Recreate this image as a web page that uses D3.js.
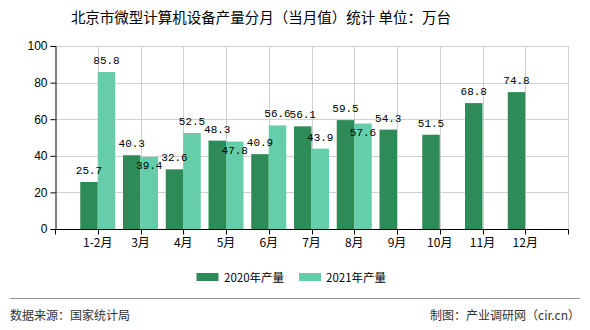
<!DOCTYPE html>
<html><head><meta charset="utf-8">
<script src="https://cdn.jsdelivr.net/npm/d3@7"></script>
<style>body{margin:0;background:#fff;}svg{display:block;}</style>
</head><body>
<svg id="c" width="590" height="330"></svg>
<script>
const categories = ["1-2月","3月","4月","5月","6月","7月","8月","9月","10月","11月","12月"];
const values2020 = [25.7,40.3,32.6,48.3,40.9,56.1,59.5,54.3,51.5,68.8,74.8];
const values2021 = [85.8,39.4,52.5,47.8,56.6,43.9,57.6,null,null,null,null];
const seriesNames = ["2020年产量","2021年产量"];
const yTicks = [0,20,40,60,80,100];
const colors = ["#2e8b57","#66cdaa"];

const svg = d3.select("#c");
const L = 55, R = 568, T = 46, B = 229;
const x = d3.scalePoint().domain(categories).range([L, R]).padding(1);
const y = d3.scaleLinear().domain([0,100]).range([B, T]);
const bw = 17.5;
const cjk = "'Noto Sans CJK SC', sans-serif";
const mono = "'Liberation Mono', monospace";

// title
svg.append("text").attr("x", 261).attr("y", 23).attr("text-anchor","middle")
  .attr("font-family", cjk).attr("font-size", 14.5).attr("fill","#000")
  .text("北京市微型计算机设备产量分月（当月值）统计 单位：万台");

// grid horizontal
svg.append("g").selectAll("line").data(yTicks.filter(d=>d>0)).join("line")
  .attr("x1", L).attr("x2", R).attr("y1", d=>Math.round(y(d))+0.5).attr("y2", d=>Math.round(y(d))+0.5)
  .attr("stroke","#d0d0d0");
// grid vertical
const vx = categories.map(c=>x(c)).concat([R]);
svg.append("g").selectAll("line").data(vx).join("line")
  .attr("x1", d=>Math.round(d)+0.5).attr("x2", d=>Math.round(d)+0.5).attr("y1", T).attr("y2", B)
  .attr("stroke","#d0d0d0");

// bars
const gb = svg.append("g");
categories.forEach((c,i)=>{
  const cx = x(c);
  if (values2020[i]!=null) gb.append("rect").attr("x", cx-bw).attr("width", bw)
    .attr("y", y(values2020[i])).attr("height", B - y(values2020[i])).attr("fill", colors[0]);
  if (values2021[i]!=null) gb.append("rect").attr("x", cx).attr("width", bw)
    .attr("y", y(values2021[i])).attr("height", B - y(values2021[i])).attr("fill", colors[1]);
});

// axes
const yAxis = d3.axisLeft(y).tickValues(yTicks).tickSize(5).tickPadding(3);
const gy = svg.append("g").attr("transform", `translate(${L+0.5},0)`).call(yAxis);
gy.select(".domain").attr("stroke","#000");
gy.selectAll(".tick line").attr("stroke","#000");
gy.selectAll("text").attr("font-family","'Liberation Sans', sans-serif").attr("font-size",12).attr("fill","#000");

const gx = svg.append("g").attr("transform", `translate(0,${B+0.5})`);
gx.append("line").attr("x1", L).attr("x2", R+0.5).attr("stroke","#000");
gx.selectAll("line.t").data(vx.concat([L])).join("line").attr("class","t")
  .attr("x1", d=>Math.round(d)+0.5).attr("x2", d=>Math.round(d)+0.5).attr("y1",0).attr("y2",5).attr("stroke","#000");
gx.selectAll("text").data(categories).join("text")
  .attr("x", d=>x(d)).attr("y", 17).attr("text-anchor","middle")
  .attr("font-family", cjk).attr("font-size", 12).attr("fill","#000").text(d=>d);

// value labels
const gl = svg.append("g").attr("font-family", mono).attr("font-size", 11).attr("fill","#000").attr("text-anchor","middle");
const lh = 10;
categories.forEach((c,i)=>{
  const cx = x(c);
  const a = values2020[i], b = values2021[i];
  let ya = null;
  if (a!=null) { ya = y(a) - 8; gl.append("text").attr("x", cx-bw/2).attr("y", ya).text(a.toFixed(1)); }
  if (b!=null) {
    let yb = y(b) - 8;
    if (ya!=null && Math.abs(yb - ya) < lh) yb = y(b) + 12.5;
    gl.append("text").attr("x", cx+bw/2).attr("y", yb).text(b.toFixed(1));
  }
});

// legend
const lg = svg.append("g");
[[196.5,224],[299,326]].forEach((p,i)=>{
  lg.append("rect").attr("x",p[0]).attr("y",273).attr("width",22).attr("height",8).attr("fill",colors[i]);
  lg.append("text").attr("x",p[1]).attr("y",281.5).attr("font-family",cjk).attr("font-size",11.5).attr("fill","#000").text(seriesNames[i]);
});

// footer
svg.append("line").attr("x1",10).attr("x2",580).attr("y1",298.5).attr("y2",298.5).attr("stroke","#999");
svg.append("text").attr("x",10).attr("y",320).attr("font-family",cjk).attr("font-size",12).attr("fill","#333").text("数据来源：国家统计局");
svg.append("text").attr("x",580).attr("y",320).attr("text-anchor","end").attr("font-family",cjk).attr("font-size",12).attr("fill","#333").text("制图：产业调研网（cir.cn）");
</script>
</body></html>
